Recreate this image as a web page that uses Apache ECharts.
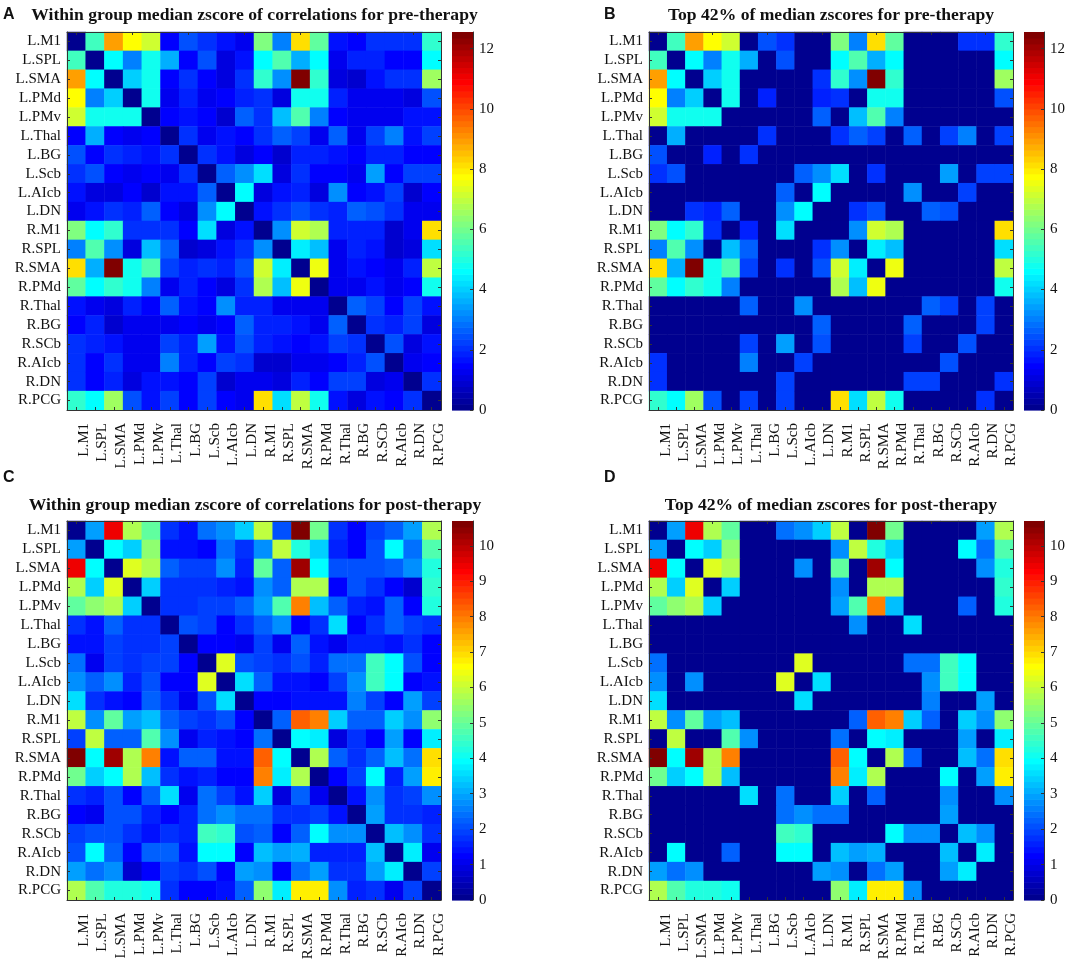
<!DOCTYPE html>
<html><head><meta charset="utf-8">
<style>html,body{margin:0;padding:0;background:#fff}#c{width:1084px;height:959px}</style>
<script src="https://cdn.jsdelivr.net/npm/echarts@6/dist/echarts.min.js"></script>
</head><body><div id="c"></div>
<script>
const regions = ['L.M1','L.SPL','L.SMA','L.PMd','L.PMv','L.Thal','L.BG','L.Scb','L.AIcb','L.DN','R.M1','R.SPL','R.SMA','R.PMd','R.Thal','R.BG','R.SCb','R.AIcb','R.DN','R.PCG'];

const preMedian = [
[0,5.4,9,7.8,7.2,1.4,2.5,2,1.7,1.3,6.2,3,8.2,5.8,1.7,1.4,2,2,2.1,5.2],
[5.4,0,4.6,3,4.9,3.6,1.5,2.5,1,1.7,4.6,5.6,3.6,4.7,1.3,1.8,1.8,1.4,1.4,4.6],
[9,4.6,0,4.1,4.9,1.4,2,1.4,1,2,5.1,3.3,12.5,5.2,1,0.8,1.7,2,2,6.6],
[7.8,3,4.1,0,4.9,1.3,1.9,1.3,1.5,1.9,2,1,4.8,4.8,1.8,1.3,1.3,1.3,1,2.4],
[7.2,4.9,4.9,4.9,0,1.5,1.7,1.4,0.8,2.6,2,3.9,5.5,3.1,1.5,1.3,1.3,1.2,1.6,1.6],
[1.4,3.6,1.4,1.3,1.5,0,2.1,1.3,1.7,1.4,2.1,2.7,2.3,1.3,2.7,1.3,2.3,3.1,1.7,2.2],
[2.5,1.5,2,1.9,1.7,2.1,0,2,1.6,1.1,1.5,0.9,1.9,1.9,1.6,1.5,1.8,1.8,1.5,1.5],
[2,2.5,1.4,1.3,1.4,1.3,2,0,2.6,3.2,4.2,1,2,1.5,1.5,1.3,3.5,1.4,2.2,2.2],
[1.7,1,1,1.5,0.8,1.7,1.6,2.6,0,4.7,1.1,1.7,1.9,1.1,3.3,1.5,1.7,2.2,0.9,1.4],
[1.3,1.7,2,1.9,2.6,1.4,1.1,3.2,4.7,0,1.6,2.1,2.4,2,1.8,2.7,2.4,2,1.3,1.3],
[6.2,4.6,5.1,2,2,2,1.4,4.2,1.1,1.6,0,3.3,7.2,6.8,1.8,1.8,1.9,0.9,1.2,8.2],
[3,5.6,3.3,1,3.9,2.7,0.9,1,1.7,2.1,3.3,0,4.4,3.9,1.2,1.9,1.6,0.9,1.1,4.2],
[8.2,3.6,12.5,4.8,5.5,2.3,1.9,2,1.9,2.4,7.2,4.4,0,7.5,1.3,1.6,1.5,1.3,1.9,7],
[5.8,4.7,5.2,4.8,3.1,1.3,1.9,1.5,1.1,2,6.8,3.9,7.5,0,1.3,1.2,1.7,1.3,1.4,4.9],
[1.7,1.3,1,1.8,1.5,2.7,1.6,1.5,3.3,1.8,1.8,1.2,1.3,1.3,0,2.6,2.2,1.4,2.3,1.7],
[1.4,1.8,0.8,1.3,1.3,1.3,1.5,1.3,1.5,2.7,1.8,1.9,1.6,1.2,2.6,0,2,1.8,2.2,1],
[2,1.8,1.7,1.3,1.3,2.3,1.8,3.5,1.7,2.4,1.9,1.6,1.5,1.7,2.2,2,0,2.4,1,1.6],
[2,1.4,2,1.3,1.2,3.1,1.8,1.4,2.2,2,0.9,0.9,1.3,1.3,1.4,1.8,2.4,0,1.3,1.5],
[2.1,1.4,1.9,1,1.6,1.6,1.5,2.2,0.9,1.3,1.2,1.1,1.9,1.4,2.3,2.2,1,1.3,0,2.1],
[5.2,4.6,6.6,2.4,1.6,2.2,1.5,2.2,1.4,1.3,8.2,4.2,7,4.9,1.7,1,1.6,1.5,2.1,0]
];

const preTop = [
[0,5.4,9,7.8,7.2,0,2.5,2,0,0,6.2,3,8.2,5.8,0,0,0,2,2.1,5.2],
[5.4,0,4.6,3,4.9,3.6,0,2.5,0,0,4.6,5.6,3.6,4.7,0,0,0,0,0,4.6],
[9,4.6,0,4.1,4.9,0,0,0,0,2,5.1,3.3,12.5,5.2,0,0,0,0,0,6.6],
[7.8,3,4.1,0,4.9,0,1.9,0,0,1.9,2,0,4.8,4.8,0,0,0,0,0,2.4],
[7.2,4.9,4.9,4.9,0,0,0,0,0,2.6,0,3.9,5.5,3.1,0,0,0,0,0,0],
[0,3.6,0,0,0,0,2.1,0,0,0,2.1,2.7,2.3,0,2.7,0,2.3,3.1,0,2.2],
[2.5,0,0,1.9,0,2.1,0,0,0,0,0,0,0,0,0,0,0,0,0,0],
[2,2.5,0,0,0,0,0,0,2.6,3.2,4.2,0,2,0,0,0,3.5,0,2.2,2.2],
[0,0,0,0,0,0,0,2.6,0,4.7,0,0,0,0,3.3,0,0,2.2,0,0],
[0,0,2,1.9,2.6,0,0,3.2,4.7,0,0,2.1,2.4,0,0,2.7,2.4,0,0,0],
[6.2,4.6,5.1,2,0,1.9,0,4.2,0,0,0,3.3,7.2,6.8,0,0,0,0,0,8.2],
[3,5.6,3.3,0,3.9,2.7,0,0,0,2.1,3.3,0,4.4,3.9,0,0,0,0,0,4.2],
[8.2,3.6,12.5,4.8,5.5,2.3,0,2,0,2.4,7.2,4.4,0,7.5,0,0,0,0,0,7],
[5.8,4.7,5.2,4.8,3.1,0,0,0,0,0,6.8,3.9,7.5,0,0,0,0,0,0,4.9],
[0,0,0,0,0,2.7,0,0,3.3,0,0,0,0,0,0,2.6,2.2,0,2.3,0],
[0,0,0,0,0,0,0,0,0,2.7,0,0,0,0,2.6,0,0,0,2.2,0],
[0,0,0,0,0,2.3,0,3.5,0,2.4,0,0,0,0,2.2,0,0,2.4,0,0],
[2,0,0,0,0,3.1,0,0,2.2,0,0,0,0,0,0,0,2.4,0,0,0],
[2.1,0,0,0,0,0,0,2.2,0,0,0,0,0,0,2.3,2.2,0,0,0,2.1],
[5.2,4.6,6.6,2.4,0,2.2,0,2.2,0,0,8.2,4.2,7,4.9,0,0,0,0,2.1,0]
];

const postMedian = [
[0,3,9.5,5.8,5,1.8,1.5,2.5,2.7,3.5,5.9,2.1,10.6,5.1,1.7,1.3,2,2.2,3,5.8],
[3,0,4,3.5,5.4,1.5,1.5,1.2,2.4,1.7,2.7,5.9,4.2,3.5,1.6,1.2,2.1,3.9,2.4,4.7],
[9.5,4,0,6.3,5.7,2.2,2,2,2.7,1.6,5,2.2,10.2,4,2.1,2.1,2.1,2.3,2.7,4.2],
[5.8,3.5,6.3,0,3.5,1.8,1.8,1.8,1.6,1.4,2.8,2.2,5.7,5.8,1.2,2.1,1.7,1.2,0.8,4.4],
[5,5.4,5.7,3.5,0,1.7,1.7,1.9,2,2.2,3,4.8,7.9,3.3,2.3,1.6,1.5,2.3,1.2,4.2],
[1.8,1.5,2.2,1.8,1.7,0,2.1,2,1.3,1.8,2.2,2.8,1.3,1.8,3.6,1.3,1.7,2.3,2,1.8],
[1.5,1.5,1.9,1.8,1.7,2,0,1.3,1.3,1.1,2,1.1,2.2,1.4,1.1,1.6,1.6,1.5,1.8,1.2],
[2.5,1.1,2,1.8,1.9,1.9,1.3,0,6.2,2.1,1.9,1.7,2.1,1.6,2.5,2.5,4.6,3.9,2.1,1.2],
[2.7,2.3,2.7,1.6,2.1,1.2,1.3,6.2,0,3.6,2.2,1.5,1.5,1.2,1.9,2.8,4.6,3.9,1.3,1.5],
[3.6,1.7,1.5,1.3,2.2,1.7,1.1,2.1,3.6,0,1.3,1.2,1.5,1.4,1.4,2.6,2,1.3,3,2],
[5.9,2.7,5,3,3.2,2.2,2,1.7,2.1,1.2,0,2.3,8.3,8,3.5,2.3,2.2,3.4,2.8,5.4],
[2,5.9,2.2,2.3,4.8,2.8,1.1,1.6,1.5,1.2,2.4,0,4,3.7,1,1.7,1.2,3,1.3,3.8],
[10.6,4,10.2,5.7,7.9,1.4,2.2,2.2,1.5,1.5,8.3,4,0,5.8,2.3,1.7,2.2,3.3,2.4,6.9],
[5.1,3.5,4,5.8,3.3,1.8,1.4,1.6,1.2,1.3,8,3.7,5.8,0,1.2,1.9,3.9,1.6,3,6.8],
[1.7,1.6,2.1,1.2,2.3,3.6,1.1,2.5,1.9,1.4,3.5,1,2.3,1.1,0,1.4,2.7,1.8,2,2.7],
[1.2,1.1,2.1,2.1,1.6,1.3,1.6,2.5,2.7,2.5,2.4,1.7,1.7,1.9,1.4,0,2.9,1.7,1.8,1.6],
[2,2.1,2.1,1.7,1.5,1.7,1.6,4.6,4.5,2.1,2.2,1.2,2.2,4,2.7,2.8,0,3.3,2.7,1.7],
[2.1,4,2.3,1.2,2.2,2.3,1.5,3.9,3.9,1.3,3.3,2.9,3.1,1.6,1.6,1.6,3.2,0,3.8,1.1],
[3,2.5,2.7,0.8,1.2,1.9,1.8,2.1,1.3,3,2.8,1.3,2.4,3,1.8,1.8,2.9,3.8,0,2],
[5.8,4.7,4.2,4.3,4.1,1.7,1.2,1.2,1.5,2.2,5.4,3.8,6.8,6.8,2.7,1.6,1.7,1.1,2,0]
];

const postTop = [
[0,3,9.5,5.8,5,0,0,2.5,2.7,3.5,5.9,0,10.6,5.1,0,0,0,0,3,5.8],
[3,0,4,3.5,5.4,0,0,0,0,0,2.7,5.9,4.2,3.5,0,0,0,3.9,2.4,4.7],
[9.5,4,0,6.3,5.7,0,0,0,2.7,0,5,0,10.2,4,0,0,0,0,2.7,4.2],
[5.8,3.5,6.3,0,3.5,0,0,0,0,0,2.8,0,5.7,5.8,0,0,0,0,0,4.4],
[5,5.4,5.7,3.5,0,0,0,0,0,0,3,4.8,7.9,3.3,0,0,0,2.3,0,4.2],
[0,0,0,0,0,0,0,0,0,0,0,2.8,0,0,3.6,0,0,0,0,0],
[0,0,0,0,0,0,0,0,0,0,0,0,0,0,0,0,0,0,0,0],
[2.5,0,0,0,0,0,0,0,6.2,0,0,0,0,0,2.5,2.5,4.6,3.9,0,0],
[2.7,0,2.7,0,0,0,0,6.2,0,3.6,0,0,0,0,0,2.8,4.6,3.9,0,0],
[3.6,0,0,0,0,0,0,0,3.6,0,0,0,0,0,0,2.6,0,0,3,0],
[5.9,2.7,5,3,3.2,0,0,0,0,0,0,2.3,8.3,8,3.5,2.3,0,3.4,2.8,5.4],
[0,5.9,0,0,4.8,2.8,0,0,0,0,2.4,0,4,3.7,0,0,0,3,0,3.8],
[10.6,4,10.2,5.7,7.9,0,0,0,0,0,8.3,4,0,5.8,2.3,0,0,3.3,2.4,6.9],
[5.1,3.5,4,5.8,3.3,0,0,0,0,0,8,3.7,5.8,0,0,0,3.9,0,3,6.8],
[0,0,0,0,0,3.6,0,2.5,0,0,3.5,0,2.3,0,0,0,2.7,0,0,2.7],
[0,0,0,0,0,0,0,2.5,2.7,2.5,2.4,0,0,0,0,0,2.9,0,0,0],
[0,0,0,0,0,0,0,4.6,4.5,0,0,0,0,4,2.7,2.8,0,3.3,2.7,0],
[0,4,0,0,2.2,0,0,3.9,3.9,0,3.3,2.9,3.1,0,0,0,3.2,0,3.8,0],
[3,2.5,2.7,0,0,0,0,0,0,3,2.8,0,2.4,3,0,0,2.9,3.8,0,0],
[5.8,4.7,4.2,4.3,4.1,0,0,0,0,0,5.4,3.8,6.8,6.8,2.7,0,0,0,0,0]
];

const titles = ['Within group median zscore of correlations for pre-therapy','Top 42% of median zscores for pre-therapy','Within group median zscore of correlations for post-therapy','Top 42% of median zscores for post-therapy'];
const letters = ['A','B','C','D'];
const panelData = [preMedian, preTop, postMedian, postTop];
const scaleMax = [12.55, 12.55, 10.7, 10.7];
const scaleStep = [2, 2, 1, 1];

const layout = [
 {x:67, w:374, y:32, h:378, cx:452, cw:21, tx:254.5, ty:15, lx:3, ly:7},
 {x:649, w:364, y:32, h:378, cx:1024, cw:20, tx:831, ty:15, lx:604, ly:7},
 {x:67, w:374, y:521, h:379, cx:452, cw:21, tx:255, ty:505, lx:3, ly:470},
 {x:649, w:364, y:521, h:379, cx:1024, cw:20, tx:831, ty:505, lx:604, ly:470}
];

const clamp = v => Math.max(0, Math.min(1, v));
const jet = [];
for (let i = 0; i < 64; i++) {
  const t = (i + 1) / 64;
  const c = [Math.min(4*t-1.5, -4*t+4.5), Math.min(4*t-0.5, -4*t+3.5), Math.min(4*t+0.5, -4*t+2.5)];
  jet.push('rgb(' + c.map(v => Math.round(clamp(v)*255)).join(',') + ')');
}

const FONT = '"Liberation Serif","Times New Roman",serif';
const AX = '#333';
const opt = {backgroundColor:'#fff', animation:false, title:[], grid:[], xAxis:[], yAxis:[], series:[], visualMap:[]};

panelData.forEach((m, p) => {
  const L = layout[p], max = scaleMax[p];
  const g0 = opt.grid.length;
  opt.grid.push({left:L.x, top:L.y, width:L.w, height:L.h, containLabel:false, show:false, outerBoundsMode:'none'});
  opt.grid.push({left:L.cx, top:L.y, width:L.cw, height:L.h, containLabel:false, show:false, outerBoundsMode:'none'});
  const xi = opt.xAxis.length, yi = opt.yAxis.length;
  const line = {show:true, onZero:false, lineStyle:{color:AX, width:1}};
  const tick = {show:true, inside:true, length:3, alignWithLabel:true, lineStyle:{color:AX, width:1}};
  opt.xAxis.push({type:'category', gridIndex:g0, data:regions, position:'bottom', z:5,
    axisLine:line, axisTick:tick, splitLine:{show:false},
    axisLabel:{interval:0, rotate:90, margin:13, fontFamily:FONT, fontSize:15, color:'#111', verticalAlign:'top', align:'right'}});
  opt.xAxis.push({type:'category', gridIndex:g0, data:regions, position:'top', z:5,
    axisLine:line, axisTick:tick, axisLabel:{show:false}, splitLine:{show:false}});
  opt.xAxis.push({type:'value', gridIndex:g0+1, min:0, max:1, show:false});
  opt.yAxis.push({type:'category', gridIndex:g0, data:regions, inverse:true, position:'left', z:5,
    axisLine:line, axisTick:tick, splitLine:{show:false},
    axisLabel:{interval:0, margin:6, fontFamily:FONT, fontSize:15, color:'#111', padding:[4,0,0,0]}});
  opt.yAxis.push({type:'category', gridIndex:g0, data:regions, inverse:true, position:'right', z:5,
    axisLine:line, axisTick:tick, axisLabel:{show:false}, splitLine:{show:false}});
  opt.yAxis.push({type:'value', gridIndex:g0+1, min:0, max:max, interval:scaleStep[p], position:'right', z:5,
    axisLine:line, axisTick:{show:true, inside:true, length:3, lineStyle:{color:AX}}, splitLine:{show:false},
    axisLabel:{margin:6, fontFamily:FONT, fontSize:15, color:'#111', showMaxLabel:false, align:'left', padding:[4,0,0,0]}});

  const cells = [];
  m.forEach((row, r) => row.forEach((v, c) => cells.push([c, r, v])));
  const si = opt.series.length;
  opt.series.push({type:'heatmap', xAxisIndex:xi, yAxisIndex:yi, data:cells, itemStyle:{borderWidth:0}, emphasis:{disabled:true}, progressive:0});
  opt.visualMap.push({type:'piecewise', show:false, seriesIndex:si, dimension:2,
    pieces: jet.map((col, i) => ({min:i*max/64, max:(i+1)*max/64, color:col}))});
  const levels = jet.map((col, i) => [i*max/64, (i+1)*max/64, i]);
  opt.series.push({type:'custom', xAxisIndex:xi+2, yAxisIndex:yi+2, data:levels, silent:true,
    encode:{y:[0,1]},
    renderItem:(params, api) => {
      const a = api.coord([0, api.value(0)]), b = api.coord([1, api.value(1)]);
      return {type:'rect', shape:{x:a[0], y:b[1], width:b[0]-a[0], height:a[1]-b[1]+0.6},
        style:{fill:jet[api.value(2)]}};
    }});
  opt.title.push({text:titles[p], left:L.tx, top:L.ty-10, textAlign:'center', padding:0,
    textStyle:{fontFamily:FONT, fontWeight:'bold', fontSize:17.6, color:'#111', lineHeight:20}});
  opt.title.push({text:letters[p], left:L.lx, top:L.ly, padding:0,
    textStyle:{fontFamily:'"Liberation Sans",Arial,sans-serif', fontWeight:'bold', fontSize:16, color:'#111'}});
});

const chart = echarts.init(document.getElementById('c'), null, {renderer:'canvas'});
chart.setOption(opt);
</script></body></html>
